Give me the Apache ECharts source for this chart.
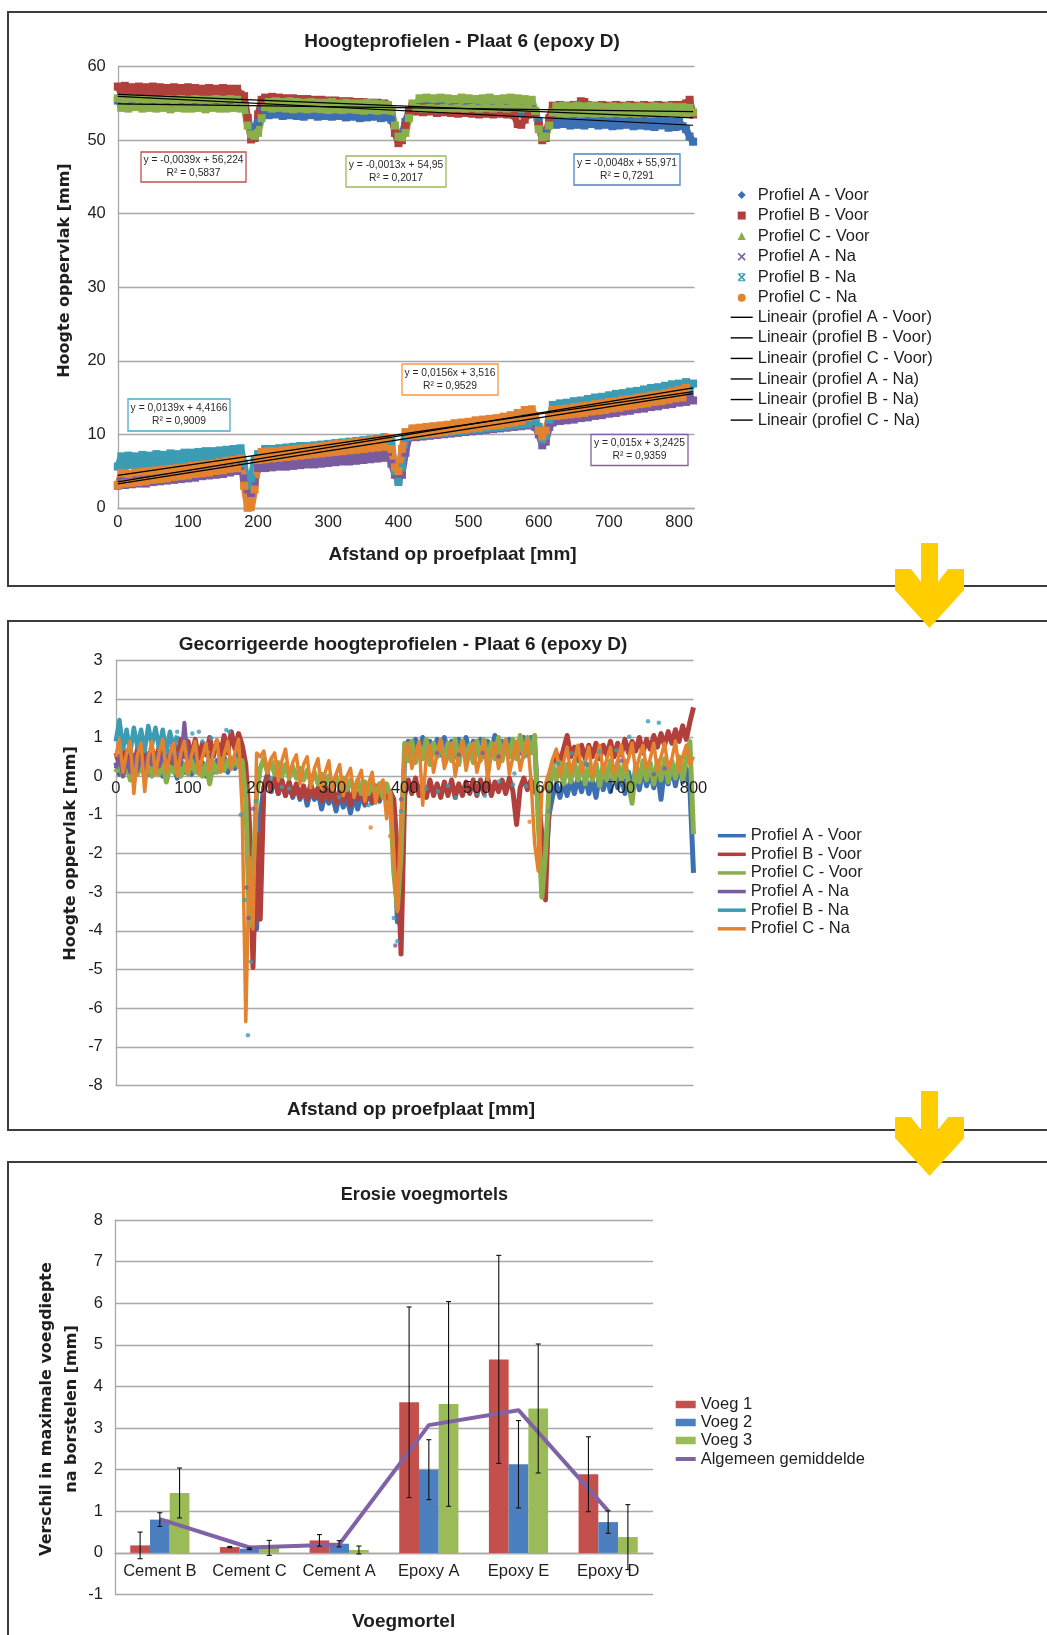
<!DOCTYPE html>
<html lang="nl">
<head>
<meta charset="utf-8">
<title>Hoogteprofielen en erosie voegmortels</title>
<script src="https://cdn.jsdelivr.net/npm/echarts@6/dist/echarts.min.js"></script>
<style>
  html, body { margin:0; padding:0; background:#ffffff; }
  #blad { position:relative; width:1047px; height:1635px; overflow:hidden; background:#fff; }
  .kader { position:absolute; left:7px; width:1100px; border:2px solid #3c3c3c; border-right:none; box-sizing:border-box; }
  .grafiek { position:absolute; left:0; width:1047px; }
  svg.pijlen { position:absolute; left:0; top:0; pointer-events:none; }
</style>
</head>
<body>
<div id="blad">
  <div class="kader" style="top:11px;height:576px;"></div>
  <div class="kader" style="top:619.5px;height:511px;"></div>
  <div class="kader" style="top:1160.5px;height:600px;border-bottom:none;"></div>
  <div id="grafiek1" class="grafiek" style="top:0;height:600px;"></div>
  <div id="grafiek2" class="grafiek" style="top:600px;height:540px;"></div>
  <div id="grafiek3" class="grafiek" style="top:1140px;height:495px;"></div>
  <svg class="pijlen" width="1047" height="1635">
    <g fill="#FFCD00">
      <rect x="921" y="543" width="17" height="62"/>
      <polygon points="895,569 911,569 929.5,593 948,569 964,569 964,590 929.5,628 895,590"/>
    </g>
    <g fill="#FFCD00" transform="translate(0,548)">
      <rect x="921" y="543" width="17" height="62"/>
      <polygon points="895,569 911,569 929.5,593 948,569 964,569 964,590 929.5,628 895,590"/>
    </g>
  </svg>
</div>
<script>
// ---------- meetposities langs de proefplaat [mm] ----------
const afstand = [
  0,5,10,15,20,25,30,35,40,45,
  50,55,60,65,70,75,80,85,90,95,
  100,105,110,115,120,125,130,135,140,145,
  150,155,160,165,170,175,180,185,190,195,
  200,205,210,215,220,225,230,235,240,245,
  250,255,260,265,270,275,280,285,290,295,
  300,305,310,315,320,325,330,335,340,345,
  350,355,360,365,370,375,380,385,390,395,
  400,405,410,415,420,425,430,435,440,445,
  450,455,460,465,470,475,480,485,490,495,
  500,505,510,515,520,525,530,535,540,545,
  550,555,560,565,570,575,580,585,590,595,
  600,605,610,615,620,625,630,635,640,645,
  650,655,660,665,670,675,680,685,690,695,
  700,705,710,715,720,725,730,735,740,745,
  750,755,760,765,770,775,780,785,790,795,
  800,805,810,815,820
];

// ---------- hoogteprofielen (ruwe meting) [mm] ----------
const hoogteA_voor = [
  55.4,54.9,55.5,54.8,55.3,55.0,55.4,54.8,55.3,54.9,
  55.4,54.8,55.2,54.9,55.3,54.7,55.2,54.9,55.3,54.8,
  55.2,54.7,55.3,54.8,55.1,54.7,55.2,54.8,55.1,54.6,
  55.2,54.7,55.1,54.8,55.0,54.6,54.8,53.0,51.5,50.8,
  52.5,54.0,54.1,53.4,54.2,53.5,54.1,53.3,54.0,53.4,
  54.1,53.3,54.0,53.2,54.0,53.4,53.9,53.2,54.0,53.3,
  53.9,53.2,53.8,53.3,53.9,53.1,53.8,53.2,53.7,53.0,
  53.8,53.1,53.7,53.2,53.8,53.0,53.6,53.1,52.8,51.5,
  50.6,50.8,52.5,54.0,54.6,54.0,54.5,53.9,54.6,54.0,
  54.5,53.9,54.6,54.0,54.4,53.8,54.5,53.9,54.4,53.8,
  54.5,53.8,54.4,53.9,54.3,53.7,54.4,53.8,54.3,53.7,
  54.4,53.7,54.3,53.8,54.2,53.6,54.3,53.7,54.2,53.8,
  52.5,50.8,51.0,52.3,52.9,52.1,53.0,52.2,52.9,52.0,
  53.0,52.1,52.9,52.0,52.9,52.2,52.8,52.0,52.9,52.1,
  52.8,51.9,52.9,52.0,52.8,52.1,52.7,51.9,52.8,52.0,
  52.7,51.9,52.6,51.8,52.7,52.0,52.6,51.7,52.5,51.8,
  52.6,51.9,51.5,50.5,49.8
];
const hoogteB_voor = [
  57.3,56.4,57.4,56.5,57.2,56.3,57.3,56.5,57.2,56.4,
  57.3,56.4,57.2,56.3,57.1,56.4,57.2,56.3,57.1,56.4,
  57.2,56.3,57.1,56.4,57.0,56.3,57.1,56.2,57.0,56.3,
  57.1,56.2,57.0,56.3,57.0,56.2,56.0,53.0,50.1,50.3,
  53.5,55.5,55.8,55.2,55.9,55.1,55.8,55.2,55.7,55.1,
  55.7,55.0,55.6,55.1,55.6,55.0,55.5,54.9,55.5,55.0,
  55.4,54.8,55.4,54.9,55.3,54.8,55.3,54.7,55.2,54.8,
  55.2,54.6,55.1,54.7,55.1,54.6,55.0,54.6,54.0,51.0,
  49.6,50.0,52.0,53.8,54.6,53.9,54.5,53.8,54.5,53.9,
  54.4,53.7,54.4,53.8,54.3,53.7,54.3,53.6,54.2,53.7,
  54.2,53.6,54.1,53.5,54.2,53.6,54.1,53.5,54.0,53.6,
  54.0,53.5,54.0,53.4,52.2,52.1,52.8,53.5,54.0,53.6,
  52.0,50.0,50.3,53.0,54.7,54.0,54.8,54.1,54.7,54.0,
  54.8,54.1,55.3,55.2,54.8,54.0,54.7,54.1,54.8,54.0,
  54.7,54.1,54.8,54.0,54.7,54.1,54.8,54.0,54.7,54.1,
  54.8,54.0,54.7,54.1,54.8,54.0,54.7,54.1,54.8,54.1,
  54.8,54.2,55.0,55.5,53.5
];
const hoogteC_voor = [
  55.7,54.4,55.6,54.3,55.7,54.5,55.6,54.3,55.5,54.4,
  55.6,54.3,55.5,54.4,55.6,54.2,55.5,54.4,55.6,54.3,
  55.5,54.3,55.6,54.4,55.5,54.2,55.5,54.4,55.6,54.3,
  55.5,54.3,55.6,54.4,55.5,54.3,54.5,52.0,50.8,50.6,
  51.0,53.0,54.5,55.2,54.3,55.3,54.4,55.2,54.3,55.3,
  54.2,55.2,54.3,55.1,54.2,55.2,54.3,55.1,54.2,55.1,
  54.1,55.2,54.2,55.0,54.1,55.1,54.2,55.0,54.1,55.0,
  54.0,55.1,54.1,55.0,54.0,54.9,54.1,54.8,54.0,52.0,
  50.5,50.4,51.0,53.0,55.0,54.4,55.7,54.3,55.8,54.4,
  55.7,54.3,55.8,54.4,55.7,54.3,55.6,54.4,55.8,54.3,
  55.7,54.4,55.6,54.3,55.7,54.4,55.8,54.3,55.6,54.4,
  55.7,54.3,55.8,54.4,55.7,54.3,55.6,54.4,55.5,54.0,
  51.5,50.4,50.5,52.0,53.8,54.6,53.7,54.7,53.6,54.6,
  53.7,54.7,53.6,54.6,53.7,54.7,53.6,54.6,53.7,54.5,
  53.6,54.6,53.7,54.5,53.6,54.6,53.7,54.5,53.6,54.6,
  53.7,54.5,53.6,54.6,53.7,54.5,53.6,54.6,53.7,54.5,
  53.6,54.5,53.7,54.4,53.8
];
const hoogteA_na = [
  3.0,3.9,3.1,4.0,3.2,4.0,3.3,4.1,3.3,4.2,
  3.5,4.3,3.6,4.4,3.7,4.5,3.8,4.6,3.9,4.7,
  4.0,4.8,4.1,4.9,4.3,5.0,4.4,5.1,4.5,5.2,
  4.6,5.4,4.8,5.5,5.0,5.7,4.0,2.5,2.0,3.5,
  5.4,6.2,5.4,6.3,5.5,6.3,5.6,6.4,5.6,6.4,
  5.7,6.5,5.8,6.6,5.9,6.7,5.9,6.8,6.0,6.8,
  6.1,6.9,6.2,7.0,6.3,7.1,6.3,7.1,6.4,7.2,
  6.5,7.3,6.6,7.4,6.7,7.5,6.8,7.6,6.0,4.5,
  3.8,4.5,7.5,9.6,10.2,9.6,10.3,9.7,10.4,9.8,
  10.5,9.9,10.6,10.0,10.7,10.1,10.8,10.2,10.9,10.3,
  11.0,10.4,11.1,10.5,11.2,10.6,11.3,10.7,11.4,10.8,
  11.5,10.9,11.6,11.0,11.7,11.1,11.8,11.2,11.9,11.0,
  10.0,8.5,9.0,11.0,11.6,12.5,11.8,12.6,11.9,12.8,
  12.0,12.9,12.2,13.1,12.3,13.2,12.5,13.3,12.6,13.5,
  12.8,13.6,12.9,13.8,13.1,13.9,13.2,14.1,13.4,14.2,
  13.5,14.4,13.7,14.5,13.8,14.7,14.0,14.8,14.1,15.0,
  14.3,15.1,14.4,15.2,14.6
];
const hoogteB_na = [
  5.6,7.0,5.7,7.1,5.8,7.0,5.8,7.2,5.9,7.1,
  6.0,7.3,6.0,7.2,6.1,7.4,6.2,7.3,6.2,7.5,
  6.3,7.5,6.4,7.6,6.4,7.7,6.5,7.7,6.6,7.8,
  6.6,7.9,6.7,8.0,6.8,8.1,6.0,3.0,4.0,6.5,
  7.3,7.0,8.0,7.1,8.0,7.2,8.1,7.2,8.2,7.3,
  8.3,7.4,8.4,7.5,8.4,7.6,8.5,7.7,8.6,7.8,
  8.7,7.9,8.8,8.0,8.9,8.1,9.0,8.2,9.1,8.3,
  9.2,8.4,9.3,8.5,9.4,8.6,9.6,8.7,9.0,5.0,
  3.5,5.5,9.5,9.7,10.6,9.8,10.7,9.9,10.8,10.0,
  10.9,10.1,11.0,10.2,11.1,10.3,11.2,10.4,11.3,10.5,
  11.4,10.6,11.5,10.7,11.6,10.8,11.7,10.9,11.8,11.0,
  11.9,11.1,12.0,11.2,12.1,11.3,12.2,11.4,12.3,11.8,
  11.0,9.3,9.8,12.0,14.0,13.1,14.2,13.2,14.3,13.4,
  14.5,13.5,14.6,13.7,14.8,13.9,15.0,14.0,15.1,14.2,
  15.3,14.4,15.5,14.5,15.6,14.7,15.8,14.8,15.9,15.0,
  16.1,15.2,16.3,15.3,16.4,15.5,16.6,15.6,16.8,15.8,
  16.9,16.0,17.1,16.1,16.9
];
const hoogteC_na = [
  3.1,4.7,3.3,4.6,3.4,4.8,3.5,4.9,3.6,5.0,
  3.8,5.1,3.9,5.2,4.0,5.3,4.2,5.4,4.3,5.5,
  4.4,5.7,4.6,5.8,4.7,5.9,4.8,6.0,5.0,6.2,
  5.1,6.4,5.3,6.5,5.4,6.7,3.0,0.0,-0.3,2.5,
  6.5,7.6,6.6,7.7,6.7,7.7,6.8,7.8,6.9,7.9,
  7.0,8.0,7.1,8.1,7.2,8.2,7.3,8.3,7.4,8.4,
  7.5,8.6,7.6,8.7,7.7,8.8,7.8,8.9,7.9,9.0,
  8.0,9.1,8.1,9.2,8.2,9.3,8.3,9.5,8.0,5.5,
  5.0,8.0,10.3,9.8,10.8,9.9,10.9,10.0,11.0,10.1,
  11.1,10.2,11.2,10.3,11.3,10.5,11.5,10.6,11.6,10.7,
  11.7,10.8,11.9,10.9,12.0,11.1,12.1,11.2,12.2,11.3,
  12.4,11.5,12.6,11.6,12.9,11.8,13.3,12.3,13.4,12.5,
  10.5,9.7,10.5,12.5,13.3,12.5,13.4,12.6,13.5,12.7,
  13.7,12.8,13.8,12.9,13.9,13.1,14.1,13.2,14.2,13.3,
  14.4,13.5,14.5,13.6,14.7,13.8,14.8,13.9,15.0,14.1,
  15.1,14.2,15.3,14.4,15.4,14.5,15.6,14.7,15.8,14.9,
  16.0,15.0,16.3
];

// ---------- lineaire trendlijnen: y = helling * x + afsnijding ----------
const trendHelling    = [-0.0048, -0.0039, -0.0013, 0.015, 0.0139, 0.0156];
const trendAfsnijding = [55.971, 56.224, 54.95, 3.2425, 4.4166, 3.516];
const trendR2         = [0.7291, 0.5837, 0.2017, 0.9359, 0.9009, 0.9529];

// ---------- gecorrigeerde hoogteprofielen [mm] ----------
const corrA_voor = [
  0.35,0.05,0.4,0.1,0.45,0.0,0.3,0.15,0.5,0.05,
  0.4,0.1,0.35,0.0,0.45,0.15,0.3,-0.05,0.4,0.1,
  0.45,0.05,0.5,0.15,0.35,0.0,0.55,0.1,0.4,0.2,
  0.5,0.1,0.45,0.2,0.6,0.3,-0.4,-1.8,-3.9,-3.95,
  -1.0,-0.3,0.05,-0.35,-0.1,-0.45,-0.15,-0.5,-0.2,-0.55,
  -0.25,-0.6,-0.3,-0.75,-0.35,-0.6,-0.4,-0.85,-0.45,-0.7,
  -0.5,-0.9,-0.45,-0.8,-0.55,-0.95,-0.5,-0.85,-0.45,-0.75,
  -0.4,-0.7,-0.35,-0.65,-0.3,-0.6,-0.5,-1.5,-3.77,-2.0,
  0.5,0.9,0.55,0.95,0.6,1.0,0.5,0.9,0.65,0.95,
  0.55,1.0,0.6,0.9,0.5,0.95,0.6,1.0,0.55,0.9,
  0.6,0.95,0.5,0.9,0.65,1.05,0.55,0.9,0.6,0.95,
  0.5,0.85,0.6,1.0,0.55,1.0,0.8,-0.8,-2.1,-2.3,
  -1.0,-0.5,-0.2,-0.55,-0.15,-0.5,-0.1,-0.45,-0.05,-0.4,
  0.0,-0.45,-0.1,-0.55,0.05,-0.35,0.0,-0.4,0.1,-0.3,
  0.05,-0.45,0.1,-0.3,0.15,-0.35,0.2,-0.25,0.1,-0.3,
  0.15,-0.6,0.2,-0.2,0.25,-0.25,0.3,-0.15,0.2,-0.3,
  -2.5
];
const corrB_voor = [
  0.6,0.3,0.7,0.35,0.65,0.25,0.7,0.4,0.6,0.3,
  0.7,0.35,0.75,0.4,0.65,0.3,0.9,0.45,0.95,0.5,
  0.9,0.5,0.95,0.45,0.85,0.55,1.0,0.5,0.9,0.55,
  1.05,0.6,1.15,0.7,1.1,0.8,0.3,-1.2,-4.95,-1.5,
  -3.7,-0.3,0.0,-0.4,-0.05,-0.45,-0.1,-0.5,-0.15,-0.5,
  -0.2,-0.55,-0.25,-0.6,-0.2,-0.55,-0.3,-0.65,-0.25,-0.6,
  -0.3,-0.7,-0.35,-0.65,-0.3,-0.75,-0.35,-0.6,-0.3,-0.7,
  -0.3,-0.65,-0.25,-0.6,-0.3,-0.55,-0.4,-0.6,-2.0,-4.6,
  -0.5,-0.1,-0.45,-0.05,-0.5,-0.15,-0.55,-0.1,-0.5,-0.2,
  -0.55,-0.15,-0.5,-0.1,-0.55,-0.2,-0.5,-0.15,-0.45,-0.1,
  -0.5,-0.1,-0.45,-0.05,-0.5,-0.15,-0.4,-0.1,-0.45,-0.05,
  -0.4,-1.25,-0.3,-0.05,-0.35,-0.1,-0.4,-0.5,-1.5,-3.2,
  -0.5,0.3,0.6,0.35,0.7,1.05,0.5,0.75,0.4,0.8,
  0.45,0.8,0.5,0.85,0.45,0.8,0.55,0.9,0.5,0.85,
  0.55,0.95,0.6,0.9,0.65,1.0,0.6,0.95,0.7,1.05,
  0.75,1.1,0.8,1.15,0.85,1.2,0.9,1.3,0.95,1.4,
  1.78
];
const corrC_voor = [
  0.1,0.3,0.0,0.35,-0.1,0.25,0.05,0.4,-0.05,0.3,
  0.0,0.35,0.05,0.3,-0.15,0.25,0.1,0.35,0.0,0.3,
  0.05,0.4,0.1,0.35,0.0,0.3,-0.2,0.35,0.1,0.4,
  0.15,0.4,0.2,0.45,0.25,0.4,-0.6,-3.86,-2.5,-0.5,
  0.2,0.45,0.1,0.4,0.05,0.35,0.0,0.3,-0.05,0.25,
  -0.05,0.2,-0.1,0.15,-0.15,0.1,-0.2,0.05,-0.2,0.0,
  -0.25,0.0,-0.3,-0.05,-0.35,-0.1,-0.4,-0.1,-0.45,-0.15,
  -0.45,-0.15,-0.5,-0.2,-0.55,-0.2,-0.5,-2.5,-3.43,-2.0,
  0.85,0.4,0.9,0.35,0.8,0.45,0.95,0.3,0.85,0.5,
  0.9,0.35,0.85,0.4,0.95,0.3,0.9,0.45,0.8,0.35,
  0.9,0.4,0.95,0.35,0.85,0.45,1.0,0.4,0.9,0.5,
  0.95,0.45,1.05,0.5,1.0,0.6,1.05,-1.2,-3.13,-2.0,
  -0.3,0.3,-0.1,0.35,-0.2,0.3,-0.15,0.4,-0.1,0.35,
  -0.2,0.3,-0.1,0.35,-0.25,0.3,-0.1,0.4,-0.15,0.35,
  -0.1,0.4,-0.2,-0.7,0.3,-0.15,0.4,-0.1,0.35,-0.2,
  0.4,-0.1,0.45,-0.15,0.4,-0.05,0.5,-0.1,0.45,0.9,
  -1.5
];
const corrA_na = [
  0.2,0.5,0.0,0.45,0.1,0.55,0.15,0.5,0.2,0.6,
  0.3,0.6,0.25,0.55,0.3,0.65,0.35,0.6,0.3,1.38,
  0.3
];
const corrB_na = [
  0.9,1.45,0.7,1.2,0.6,1.25,0.75,1.2,0.65,1.3,
  0.8,1.25,0.7,1.2,0.6,1.15,0.7,1.05
];
const corrC_na = [
  0.5,0.95,0.1,0.6,0.9,-0.45,0.55,0.85,-0.4,0.5,
  0.9,0.05,0.6,0.95,0.1,0.55,0.85,0.0,0.6,0.9,
  0.1,0.55,0.9,0.05,0.5,0.85,0.15,0.6,0.95,0.1,
  0.55,0.9,0.2,0.6,0.95,-0.85,-6.35,-2.1,-3.95,0.6,
  0.5,0.65,0.1,0.45,0.6,-0.1,0.4,0.7,0.0,0.35,
  0.55,-0.2,0.3,0.5,-0.3,0.2,0.45,-0.35,0.1,0.4,
  -0.4,0.05,0.3,-0.5,0.0,0.2,-0.55,-0.1,0.15,-0.65,
  -0.2,0.1,-0.7,-0.25,-0.1,-1.1,-0.4,-2.1,-3.5,-1.0,
  0.6,0.85,0.2,0.55,0.9,-0.75,0.5,0.8,0.1,0.6,
  0.95,0.2,0.5,0.85,0.0,0.55,0.9,0.15,0.6,0.85,
  0.1,0.5,0.9,-0.1,0.55,0.85,0.2,0.6,0.95,0.05,
  0.5,0.9,0.15,0.6,0.95,-0.1,-1.75,-2.45,-0.4,-0.2,
  0.1,0.45,0.7,0.0,0.35,0.75,0.05,0.4,0.8,0.1,
  0.35,0.75,0.0,0.4,0.8,0.1,0.45,0.75,0.05,0.4,
  0.8,0.15,0.45,0.85,0.1,0.5,0.8,0.2,0.45,0.85,
  0.15,0.5,0.85,0.2,0.45,0.9,0.15,0.5,0.8,0.3,
  0.5
];
// losse meetpunten [afstand, hoogte]
const puntenA_na = [[181,-2.88],[184,-3.67],[190,-0.84],[203,-0.45],[216,-0.4],[387,-4.38],[395,-0.6],
  [445,0.6],[475,0.55],[508,0.6],[530,0.5],[600,-0.4],[652,0.3],[700,0.4],[745,0.05],[760,0.2]];
const puntenB_na = [[85,1.15],[106,1.1],[115,1.15],[120,0.9],[132,0.98],[153,1.19],[157,1.15],
  [173,-1.0],[178,-3.2],[183,-6.7],[187,-4.8],[194,-0.64],[215,-0.06],[230,-0.28],[240,-0.32],
  [309,-0.54],[350,-0.75],[385,-3.67],[390,-4.27],[395,-0.9],[430,-0.32],[446,-0.39],[460,-0.25],
  [471,-0.56],[501,-0.45],[511,-0.51],[531,-0.13],[550,-0.22],[552,0.07],[568,-0.26],[600,-0.9],
  [612,0.33],[631,0.59],[651,0.33],[670,0.63],[693,0.67],[711,1.02],[737,1.42],[752,1.38]];
const puntenC_na = [[178,-1.6],[353,-1.33],[380,-1.55],[573,-1.18],[596,-0.3]];

// ---------- erosie voegmortels ----------
const voegmortels = ['Cement B', 'Cement C', 'Cement A', 'Epoxy A', 'Epoxy E', 'Epoxy D'];
const voeg1 = [0.18, 0.14, 0.30, 3.62, 4.65, 1.89];
const voeg2 = [0.80, 0.10, 0.22, 2.00, 2.13, 0.74];
const voeg3 = [1.44, 0.12, 0.07, 3.58, 3.47, 0.38];
const fout1 = [0.32, 0.015, 0.14, 2.29, 2.50, 0.90];
const fout2 = [0.165, 0.02, 0.075, 0.72, 1.05, 0.27];
const fout3 = [0.60, 0.18, 0.095, 2.46, 1.55, 0.78];
const gemiddelde = [0.81, 0.13, 0.20, 3.07, 3.43, 1.01];

// ---------- opmaak ----------
const LETTER = "'Liberation Sans', Arial, Helvetica, sans-serif";
const BREED = "'DejaVu Sans', Verdana, sans-serif";
const TEKST = '#1e1e1e';
const RASTER = '#a8a8a8';
const profielNamen = ['Profiel A - Voor', 'Profiel B - Voor', 'Profiel C - Voor', 'Profiel A - Na', 'Profiel B - Na', 'Profiel C - Na'];
const trendNamen = ['Lineair (profiel A - Voor)', 'Lineair (profiel B - Voor)', 'Lineair (profiel C - Voor)',
                    'Lineair (profiel A - Na)', 'Lineair (profiel B - Na)', 'Lineair (profiel C - Na)'];
const kleuren = ['#3d6fb3', '#b1403d', '#8aae4a', '#7a5b9f', '#3b9cb4', '#e3832f'];
const kaderKleuren = ['#4f81bd', '#c0504d', '#9bbb59', '#8064a2', '#4bacc6', '#f79646'];
const KRUIS = 'path://M0,1.4L1.4,0L5,3.6L8.6,0L10,1.4L6.4,5L10,8.6L8.6,10L5,6.4L1.4,10L0,8.6L3.6,5Z';
const STER = 'path://M0,1.4L1.4,0L5,3.6L8.6,0L10,1.4L6.4,5L10,8.6L8.6,10L5,6.4L1.4,10L0,8.6L3.6,5Z M1,0H9V1.3H1Z M1,8.7H9V10H1Z';
// legendasymbolen per profiel; in de dichte meetband overlappen de punten tot een vlak
const markers = ['diamond', 'rect', 'triangle', KRUIS, STER, 'circle'];
const bandPunt = 'rect';
const bandPuntGrootte = 8;
// positie [x, y, breedte, hoogte] van de vergelijkingskaders
const trendKaders = [[574, 154, 106, 31], [141, 152, 105, 30], [346, 156, 100, 31],
                     [591, 434.5, 97, 31], [128, 399, 102, 32], [402, 364, 96, 31]];

const ruw = [hoogteA_voor, hoogteB_voor, hoogteC_voor, hoogteA_na, hoogteB_na, hoogteC_na];
const gecorrigeerd = [corrA_voor, corrB_voor, corrC_voor, corrA_na, corrB_na, corrC_na];
const paren = ys => afstand.map((x, i) => [x, ys[i] === undefined ? null : ys[i]]);
const nl = v => String(v).replace('.', ',');

const asLabel = { fontFamily: LETTER, fontSize: 16.5, color: TEKST };
const legendeTekst = { fontFamily: LETTER, fontSize: 16.5, color: TEKST, lineHeight: 16 };
const titelStijl = size => ({ fontFamily: LETTER, fontSize: size, fontWeight: 'bold', color: TEKST });
function tekstEl(x, y, text, font, size, rot, lh) {
  return { type: 'text', x: x, y: y, rotation: rot || 0, silent: true,
    style: { text: text, fontFamily: font, fontSize: size, fontWeight: 'bold', fill: TEKST,
             align: 'center', verticalAlign: 'middle', textAlign: 'center', textVerticalAlign: 'middle',
             lineHeight: lh || size * 1.2 } };
}
// verschuiving van een horizontale as vanaf de onderrand naar de nullijn
const nulOffset = (hoogte, min, max) => -hoogte * (0 - min) / (max - min);

// ================= Grafiek 1: hoogteprofielen =================
const laatste = afstand[afstand.length - 1];
const g1Elementen = [
  tekstEl(64.6, 270.6, 'Hoogte oppervlak [mm]', BREED, 16, Math.PI / 2),
  tekstEl(452.6, 554.8, 'Afstand op proefplaat [mm]', LETTER, 19, 0)
];
trendKaders.forEach((b, k) => {
  g1Elementen.push({ type: 'rect', silent: true, z: 10, shape: { x: b[0], y: b[1], width: b[2], height: b[3] },
    style: { fill: '#fff', stroke: kaderKleuren[k], lineWidth: 1.3 } });
  g1Elementen.push({ type: 'text', silent: true, z: 11, x: b[0] + b[2] / 2, y: b[1] + b[3] / 2,
    style: { text: 'y = ' + nl(trendHelling[k]) + 'x + ' + nl(trendAfsnijding[k]) + '\nR² = ' + nl(trendR2[k]),
             fontFamily: LETTER, fontSize: 10.3, fill: '#2a2a2a', lineHeight: 13,
             align: 'center', verticalAlign: 'middle', textAlign: 'center', textVerticalAlign: 'middle' } });
});

const grafiek1 = echarts.init(document.getElementById('grafiek1'), null, { renderer: 'canvas' });
grafiek1.setOption({
  animation: false,
  textStyle: { fontFamily: LETTER },
  title: { text: 'Hoogteprofielen - Plaat 6 (epoxy D)', left: 462, top: 32, textAlign: 'center', padding: 0,
           textStyle: titelStijl(19) },
  legend: [
    { data: profielNamen.map((n, k) => ({ name: n, icon: markers[k] })), orient: 'vertical',
      left: 737.7, top: 186.5, padding: 0, itemWidth: 8, itemHeight: 8, itemGap: 3.56,
      textStyle: Object.assign({ padding: [0, 0, 0, 7] }, legendeTekst), itemStyle: { borderWidth: 0 } },
    { data: trendNamen.map(n => ({ name: n, icon: 'rect' })), orient: 'vertical',
      left: 730.7, top: 308.8, padding: 0, itemWidth: 22, itemHeight: 1.4, itemGap: 3.56,
      textStyle: legendeTekst, itemStyle: { borderWidth: 0 } }
  ],
  grid: { left: 117.8, top: 66.7, width: 576.7, height: 441.1, outerBoundsMode: 'none' },
  xAxis: { type: 'value', min: 0, max: 822, interval: 100,
    axisLine: { show: true, onZero: false, lineStyle: { color: RASTER, width: 1.3 } }, axisTick: { show: false },
    splitLine: { show: false }, axisLabel: Object.assign({ margin: 6, showMaxLabel: false }, asLabel) },
  yAxis: { type: 'value', min: 0, max: 60, interval: 10,
    axisLine: { show: true, lineStyle: { color: RASTER, width: 1.3 } }, axisTick: { show: false },
    splitLine: { lineStyle: { color: RASTER, width: 1.3 } }, axisLabel: Object.assign({ margin: 12 }, asLabel) },
  graphic: { elements: g1Elementen },
  series: ruw.map((ys, k) => ({
    name: profielNamen[k], type: 'line', data: paren(ys), showSymbol: true,
    symbol: bandPunt, symbolSize: bandPuntGrootte,
    itemStyle: { color: kleuren[k], borderWidth: 0 }, lineStyle: { color: kleuren[k], width: 7, join: 'round', cap: 'round' },
    emphasis: { disabled: true }, z: 2
  })).concat(trendNamen.map((n, k) => ({
    name: n, type: 'line', symbol: 'none', silent: true, z: 4,
    data: [[0, trendAfsnijding[k]], [laatste, trendHelling[k] * laatste + trendAfsnijding[k]]],
    itemStyle: { color: '#000' }, lineStyle: { color: '#000', width: 1.2 }
  })))
});

// ================= Grafiek 2: gecorrigeerde hoogteprofielen =================
const grafiek2 = echarts.init(document.getElementById('grafiek2'), null, { renderer: 'canvas' });
const losseReeksen = [[3, puntenA_na], [4, puntenB_na], [5, puntenC_na]];
const lijnDikte2 = [5, 5, 5, 4, 4.5, 3.5];
grafiek2.setOption({
  animation: false,
  textStyle: { fontFamily: LETTER },
  title: { text: 'Gecorrigeerde hoogteprofielen - Plaat 6 (epoxy D)', left: 403, top: 35, textAlign: 'center',
           padding: 0, textStyle: titelStijl(19) },
  legend: { data: profielNamen.map(n => ({ name: n, icon: 'rect' })), orient: 'vertical',
    left: 717.8, top: 227.2, padding: 0, itemWidth: 28, itemHeight: 3.5, itemGap: 1.62,
    textStyle: legendeTekst, itemStyle: { borderWidth: 0 } },
  grid: { left: 115.8, top: 60.1, width: 577.7, height: 425.5, outerBoundsMode: 'none' },
  xAxis: { type: 'value', min: 0, max: 800, interval: 100, z: 3, offset: nulOffset(425.5, -8, 3),
    axisLine: { show: false, onZero: false }, axisTick: { show: false }, splitLine: { show: false },
    axisLabel: Object.assign({ margin: 4 }, asLabel) },
  yAxis: { type: 'value', min: -8, max: 3, interval: 1,
    axisLine: { show: true, lineStyle: { color: RASTER, width: 1.3 } }, axisTick: { show: false },
    splitLine: { lineStyle: { color: RASTER, width: 1.3 } }, axisLabel: Object.assign({ margin: 13 }, asLabel) },
  graphic: { elements: [
    tekstEl(71, 253.5, 'Hoogte oppervlak [mm]', BREED, 16, Math.PI / 2),
    tekstEl(411, 509.5, 'Afstand op proefplaat [mm]', LETTER, 19, 0)
  ] },
  series: gecorrigeerd.map((ys, k) => ({
    name: profielNamen[k], type: 'line', data: paren(ys), symbol: 'none', showSymbol: false,
    itemStyle: { color: kleuren[k] }, lineStyle: { color: kleuren[k], width: lijnDikte2[k], join: 'round' },
    emphasis: { disabled: true }, z: 2
  })).concat(losseReeksen.map(([k, pts]) => ({
    name: profielNamen[k], type: 'scatter', data: pts, symbol: 'circle', symbolSize: 4.5,
    itemStyle: { color: kleuren[k] }, emphasis: { disabled: true }, z: 2
  })))
});

// ================= Grafiek 3: erosie voegmortels =================
const voegNamen = ['Voeg 1', 'Voeg 2', 'Voeg 3'];
const voegWaarden = [voeg1, voeg2, voeg3];
const voegFouten = [fout1, fout2, fout3];
const voegKleuren = ['#c4504e', '#4c7fc0', '#9bbb59'];
const BALK = 0.22;
const foutData = [];
voegWaarden.forEach((vals, k) => vals.forEach((v, c) => foutData.push([c, v, voegFouten[k][c], k])));

const grafiek3 = echarts.init(document.getElementById('grafiek3'), null, { renderer: 'canvas' });
grafiek3.setOption({
  animation: false,
  textStyle: { fontFamily: LETTER },
  title: { text: 'Erosie voegmortels', left: 424.4, top: 46, textAlign: 'center', padding: 0, textStyle: titelStijl(18) },
  legend: [
    { data: voegNamen.map(n => ({ name: n, icon: 'rect' })), orient: 'vertical', left: 675.7, top: 256,
      padding: 0, itemWidth: 20, itemHeight: 7.5, itemGap: 1, textStyle: legendeTekst, itemStyle: { borderWidth: 0 } },
    { data: [{ name: 'Algemeen gemiddelde', icon: 'rect' }], orient: 'vertical', left: 675.7, top: 310.5,
      padding: 0, itemWidth: 20, itemHeight: 4, textStyle: legendeTekst, itemStyle: { borderWidth: 0 } }
  ],
  grid: { left: 115, top: 80, width: 538, height: 374.5, outerBoundsMode: 'none' },
  xAxis: { type: 'category', data: voegmortels, offset: nulOffset(374.5, -1, 8),
    axisLine: { show: true, onZero: false, lineStyle: { color: RASTER, width: 1.3 } }, axisTick: { show: false },
    axisLabel: Object.assign({ margin: 10, interval: 0 }, asLabel) },
  yAxis: { type: 'value', min: -1, max: 8, interval: 1,
    axisLine: { show: true, lineStyle: { color: RASTER, width: 1.3 } }, axisTick: { show: false },
    splitLine: { lineStyle: { color: RASTER, width: 1.3 } }, axisLabel: Object.assign({ margin: 12 }, asLabel) },
  graphic: { elements: [
    tekstEl(59.5, 269, 'Verschil in maximale voegdiepte\nna borstelen [mm]', BREED, 16, Math.PI / 2, 25),
    tekstEl(403.6, 481.6, 'Voegmortel', LETTER, 19, 0)
  ] },
  series: voegWaarden.map((vals, k) => ({
    name: voegNamen[k], type: 'bar', data: vals, barWidth: (BALK * 100) + '%', barGap: '0%',
    itemStyle: { color: voegKleuren[k] }, emphasis: { disabled: true }, z: 2
  })).concat([
    { name: 'Algemeen gemiddelde', type: 'line', data: gemiddelde, symbol: 'none', z: 4,
      itemStyle: { color: '#7f63a6' }, lineStyle: { color: '#7f63a6', width: 4, join: 'round' } },
    { name: 'foutmarge', type: 'custom', data: foutData, silent: true, z: 5,
      encode: { x: 0, y: 1 },
      renderItem: function (params, api) {
        const c = api.value(0), v = api.value(1), e = api.value(2), k = api.value(3);
        const band = api.size([1, 0])[0];
        const cx = api.coord([c, 0])[0] + (k - 1) * band * BALK;
        const yTop = api.coord([c, v + e])[1];
        const yBot = api.coord([c, v - e])[1];
        const st = { stroke: '#111', lineWidth: 1.1 };
        return { type: 'group', children: [
          { type: 'line', shape: { x1: cx, y1: yTop, x2: cx, y2: yBot }, style: st },
          { type: 'line', shape: { x1: cx - 2.5, y1: yTop, x2: cx + 2.5, y2: yTop }, style: st },
          { type: 'line', shape: { x1: cx - 2.5, y1: yBot, x2: cx + 2.5, y2: yBot }, style: st }
        ] };
      } }
  ])
});
</script>
</body>
</html>
